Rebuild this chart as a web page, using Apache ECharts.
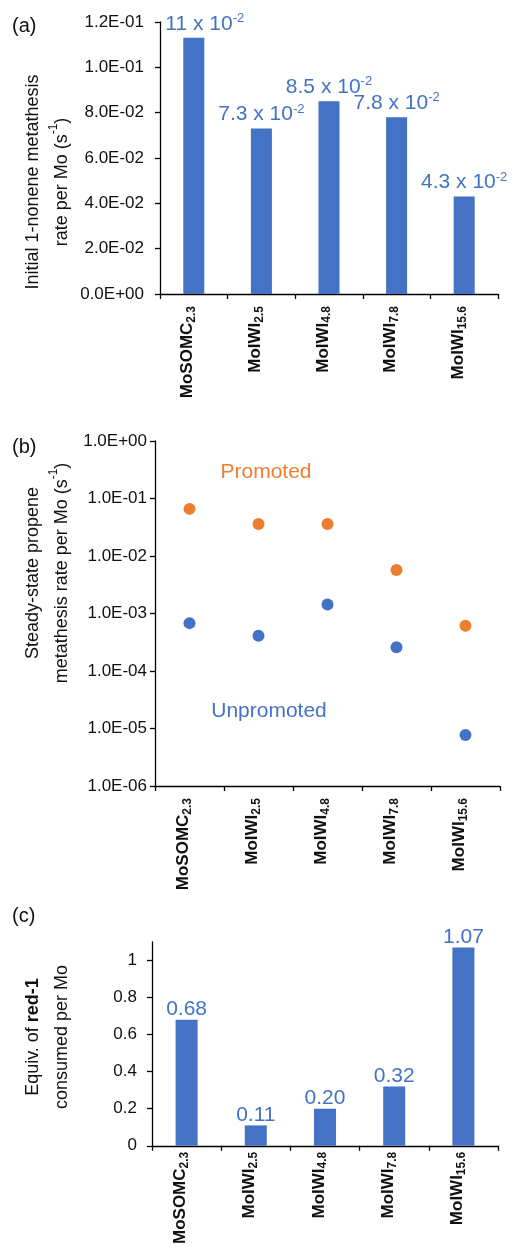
<!DOCTYPE html>
<html>
<head>
<meta charset="utf-8">
<script src="https://cdn.jsdelivr.net/npm/echarts@6/dist/echarts.min.js"></script>
<style>
html,body{margin:0;padding:0;background:#fff;}
#chart{width:515px;height:1247px;}
</style>
</head>
<body>
<div id="chart"></div>
<script>
// ---- data ----
const catMain = ['MoSOMC', 'MoIWI', 'MoIWI', 'MoIWI', 'MoIWI'];
const catSub = ['2.3', '2.5', '4.8', '7.8', '15.6'];
const categories = catMain.map((m, i) => m + '_' + catSub[i]);

// (a) initial 1-nonene metathesis rate per Mo (s^-1)
const rateA = [0.113, 0.073, 0.085, 0.078, 0.043];
const rateALabelMantissa = ['11', '7.3', '8.5', '7.8', '4.3'];
const rateALabelExp = '-2';
const yTicksA = { min: 0, max: 0.12, interval: 0.02 };

// (b) steady-state propene metathesis rate per Mo (s^-1), log scale
const promoted = [0.066, 0.036, 0.036, 0.0057, 0.00061];
const unpromoted = [0.00068, 0.00041, 0.00144, 0.00026, 0.0000077];
const yRangeB = { min: 1e-6, max: 1 };

// (c) equiv. of red-1 consumed per Mo
const red1 = [0.68, 0.11, 0.20, 0.32, 1.07];
const yTicksC = [0, 0.2, 0.4, 0.6, 0.8, 1];
const yMaxC = 1.1;

// ---- styling ----
const FONT = '"Liberation Sans", Arial, sans-serif';
const BLUE = '#4472C4';
const ORANGE = '#ED7D31';
const AXIS = '#000';
const TXT = '#111';

function expFmt(v) {
  const s = Number(v).toExponential(1);
  const parts = s.split('e');
  const sign = parts[1][0] === '-' ? '-' : '+';
  const d = parts[1].replace(/[+-]/, '').padStart(2, '0');
  return parts[0] + 'E' + sign + d;
}

function catLabel(margin) {
  return {
    rotate: 90,
    interval: 0,
    margin: margin,
    padding: [0, 0, 12, 0],
    formatter: v => { const p = v.split('_'); return '{m|' + p[0] + '}{s|' + p[1] + '}'; },
    rich: {
      m: { fontFamily: FONT, fontSize: 17, fontWeight: 'bold', color: TXT, lineHeight: 20 },
      s: { fontFamily: FONT, fontSize: 12, fontWeight: 'bold', color: TXT, lineHeight: 4, verticalAlign: 'bottom' }
    }
  };
}

function xAxisCfg(gi, margin) {
  return {
    type: 'category', gridIndex: gi, data: categories,
    axisLine: { lineStyle: { color: AXIS, width: 1.3 } },
    axisTick: { show: true, length: 5, lineStyle: { color: AXIS, width: 1.3 } },
    axisLabel: catLabel(margin),
    splitLine: { show: false }
  };
}

const yAxisCommon = {
  axisLine: { show: true, lineStyle: { color: AXIS, width: 1.3 } },
  axisTick: { show: true, length: 5, lineStyle: { color: AXIS, width: 1.3 } },
  splitLine: { show: false }
};

const option = {
  animation: false,
  backgroundColor: '#fff',
  textStyle: { fontFamily: FONT },
  grid: [
    { left: 160, width: 338, top: 22, height: 272 },
    { left: 155, width: 345, top: 441, height: 345 },
    { left: 152, width: 346, top: 942, height: 207 }
  ],
  xAxis: [xAxisCfg(0, 12), xAxisCfg(1, 12), xAxisCfg(2, 6)],
  yAxis: [
    Object.assign({}, yAxisCommon, {
      type: 'value', gridIndex: 0, min: yTicksA.min, max: yTicksA.max, interval: yTicksA.interval,
      axisLabel: { formatter: expFmt, fontSize: 17, color: TXT, margin: 16, fontFamily: FONT }
    }),
    Object.assign({}, yAxisCommon, {
      type: 'log', logBase: 10, gridIndex: 1, min: yRangeB.min, max: yRangeB.max,
      axisLabel: { formatter: expFmt, fontSize: 17, color: TXT, margin: 8, fontFamily: FONT },
      minorTick: { show: false }
    }),
    Object.assign({}, yAxisCommon, {
      type: 'value', gridIndex: 2, min: 0, max: yMaxC, interval: 0.2,
      axisTick: { show: true, length: 5, lineStyle: { color: AXIS, width: 1.3 }, customValues: yTicksC },
      axisLabel: { customValues: yTicksC, formatter: v => String(Math.round(v * 10) / 10), fontSize: 17, color: TXT, margin: 15, fontFamily: FONT }
    })
  ],
  series: [
    {
      type: 'bar', xAxisIndex: 0, yAxisIndex: 0, barWidth: 21,
      itemStyle: { color: BLUE },
      data: rateA.map((v, i) => i === 0 ? { value: v, label: { offset: [11, 0] } } : v),
      label: {
        show: true, position: 'top', distance: 2,
        formatter: p => '{b|' + rateALabelMantissa[p.dataIndex] + ' x 10}{p|' + rateALabelExp + '}',
        rich: {
          b: { fontFamily: FONT, fontSize: 21, color: BLUE, lineHeight: 24 },
          p: { fontFamily: FONT, fontSize: 13, color: BLUE, lineHeight: 16, verticalAlign: 'top' }
        }
      }
    },
    {
      type: 'scatter', xAxisIndex: 1, yAxisIndex: 1, symbolSize: 12,
      itemStyle: { color: ORANGE, opacity: 1 },
      data: promoted
    },
    {
      type: 'scatter', xAxisIndex: 1, yAxisIndex: 1, symbolSize: 12,
      itemStyle: { color: BLUE, opacity: 1 },
      data: unpromoted
    },
    {
      type: 'bar', xAxisIndex: 2, yAxisIndex: 2, barWidth: 22,
      itemStyle: { color: BLUE },
      data: red1,
      label: {
        show: true, position: 'top', distance: 0,
        formatter: p => p.value.toFixed(2),
        fontFamily: FONT, fontSize: 21, color: BLUE, lineHeight: 21
      }
    }
  ],
  graphic: [
    { type: 'text', x: 12, y: 26, style: { text: '(a)', fontSize: 20, fontFamily: FONT, fill: TXT, verticalAlign: 'middle' } },
    { type: 'text', x: 12, y: 447, style: { text: '(b)', fontSize: 20, fontFamily: FONT, fill: TXT, verticalAlign: 'middle' } },
    { type: 'text', x: 12, y: 916, style: { text: '(c)', fontSize: 20, fontFamily: FONT, fill: TXT, verticalAlign: 'middle' } },
    {
      type: 'text', x: 48, y: 182, rotation: Math.PI / 2,
      style: {
        text: '{n|Initial 1-nonene metathesis}\n{n|rate per Mo (s}{p|-1}{n|)}',
        align: 'center', verticalAlign: 'middle',
        rich: {
          n: { fontFamily: FONT, fontSize: 18, fill: TXT, lineHeight: 29 },
          p: { fontFamily: FONT, fontSize: 12, fill: TXT, lineHeight: 22, verticalAlign: 'top' }
        }
      }
    },
    {
      type: 'text', x: 48, y: 573, rotation: Math.PI / 2,
      style: {
        text: '{n|Steady-state propene}\n{n|metathesis rate per Mo (s}{p|-1}{n|)}',
        align: 'center', verticalAlign: 'middle',
        rich: {
          n: { fontFamily: FONT, fontSize: 18, fill: TXT, lineHeight: 29 },
          p: { fontFamily: FONT, fontSize: 12, fill: TXT, lineHeight: 22, verticalAlign: 'top' }
        }
      }
    },
    {
      type: 'text', x: 48, y: 1037, rotation: Math.PI / 2,
      style: {
        text: '{n|Equiv. of }{bd|red-1}\n{n|consumed per Mo}',
        align: 'center', verticalAlign: 'middle',
        rich: {
          n: { fontFamily: FONT, fontSize: 18, fill: TXT, lineHeight: 29 },
          bd: { fontFamily: FONT, fontSize: 18, fontWeight: 'bold', fill: TXT, lineHeight: 29 }
        }
      }
    },
    { type: 'text', x: 266, y: 472, style: { text: 'Promoted', fontSize: 21, fontFamily: FONT, fill: ORANGE, align: 'center', verticalAlign: 'middle' } },
    { type: 'text', x: 269, y: 711, style: { text: 'Unpromoted', fontSize: 21, fontFamily: FONT, fill: BLUE, align: 'center', verticalAlign: 'middle' } }
  ]
};

const chart = echarts.init(document.getElementById('chart'), null, { renderer: 'canvas' });
chart.setOption(option);
</script>
</body>
</html>
